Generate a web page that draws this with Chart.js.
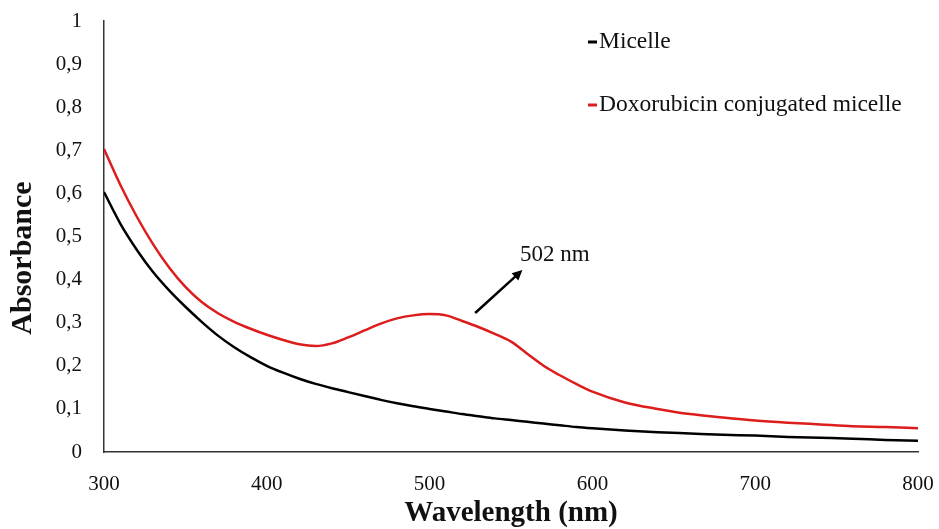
<!DOCTYPE html>
<html>
<head>
<meta charset="utf-8">
<script src="https://cdn.jsdelivr.net/npm/chart.js@4"></script>
<style>
  html, body { margin: 0; padding: 0; background: #fff; }
  #wrap { width: 939px; height: 529px; }
</style>
</head>
<body>
<div id="wrap"><canvas id="myChart"></canvas></div>
<script>
const wavelengths = [300, 310, 320, 330, 340, 350, 360, 370, 380, 390, 400, 410, 420, 430, 440, 450,
  460, 470, 480, 490, 500, 510, 520, 530, 540, 550, 560, 570, 580, 590, 600, 620, 640, 660,
  680, 700, 720, 740, 760, 780, 800];
const micelle = [0.603, 0.53, 0.47, 0.418, 0.375, 0.337, 0.302, 0.27, 0.243, 0.22, 0.2, 0.184,
  0.17, 0.158, 0.148, 0.139, 0.13, 0.121, 0.113, 0.106, 0.1, 0.094, 0.088, 0.083, 0.078, 0.074,
  0.07, 0.066, 0.062, 0.058, 0.055, 0.05, 0.046, 0.043, 0.04, 0.038, 0.035, 0.033, 0.031, 0.028, 0.026];
const doxMicelle = [0.703, 0.62, 0.547, 0.483, 0.428, 0.383, 0.348, 0.322, 0.302, 0.286, 0.272, 0.26,
  0.25, 0.246, 0.252, 0.266, 0.282, 0.298, 0.31, 0.317, 0.32, 0.317, 0.304, 0.29, 0.274, 0.256,
  0.228, 0.2, 0.178, 0.158, 0.14, 0.115, 0.1, 0.088, 0.08, 0.073, 0.068, 0.064, 0.06, 0.058, 0.055];
const seriesNames = ["Micelle", "Doxorubicin conjugated micelle"];
const seriesColors = ["#000000", "rgb(221,28,28)"];
const yTitle = "Absorbance";
const peakLabel = "502 nm";
const arrowTail = { x: 528, y: 0.3225 };
const arrowHead = { x: 557, y: 0.422 };
const peakLabelPos = { x: 555.5, y: 0.457 };

const serif = "'Liberation Serif', 'Times New Roman', serif";

const toPoints = (vals) => wavelengths.map((w, i) => ({ x: w, y: vals[i] }));

// legend in the top right, a short dash before each name
const legendPlugin = {
  id: 'sideLegend',
  afterDraw(chart) {
    const ctx = chart.ctx;
    const rows = [42, 105];
    ctx.save();
    ctx.font = "23.5px " + serif;
    ctx.textBaseline = 'middle';
    chart.data.datasets.forEach((ds, i) => {
      ctx.strokeStyle = ds.borderColor;
      ctx.lineWidth = 3;
      ctx.beginPath();
      ctx.moveTo(588, rows[i]);
      ctx.lineTo(597, rows[i]);
      ctx.stroke();
      ctx.fillStyle = '#111';
      ctx.fillText(ds.label, 599, rows[i]);
    });
    ctx.restore();
  }
};

// y title sits a bit below the middle of the axis in the original
const yTitlePlugin = {
  id: 'yTitle',
  afterDraw(chart) {
    const ctx = chart.ctx;
    ctx.save();
    ctx.translate(23, 258);
    ctx.rotate(-Math.PI / 2);
    ctx.font = "bold 30px " + serif;
    ctx.textAlign = 'center';
    ctx.textBaseline = 'middle';
    ctx.fillStyle = '#111';
    ctx.fillText(yTitle, 0, 0);
    ctx.restore();
  }
};

// arrow pointing at the peak, with its label
const peakPlugin = {
  id: 'peakNote',
  afterDraw(chart) {
    const { ctx, scales } = chart;
    const x1 = scales.x.getPixelForValue(arrowTail.x);
    const y1 = scales.y.getPixelForValue(arrowTail.y);
    const x2 = scales.x.getPixelForValue(arrowHead.x);
    const y2 = scales.y.getPixelForValue(arrowHead.y);
    const ang = Math.atan2(y2 - y1, x2 - x1);
    ctx.save();
    ctx.strokeStyle = '#000';
    ctx.fillStyle = '#000';
    ctx.lineWidth = 2.5;
    ctx.beginPath();
    ctx.moveTo(x1, y1);
    ctx.lineTo(x2 - 6 * Math.cos(ang), y2 - 6 * Math.sin(ang));
    ctx.stroke();
    ctx.beginPath();
    ctx.moveTo(x2, y2);
    ctx.lineTo(x2 - 10 * Math.cos(ang) + 5 * Math.sin(ang), y2 - 10 * Math.sin(ang) - 5 * Math.cos(ang));
    ctx.lineTo(x2 - 10 * Math.cos(ang) - 5 * Math.sin(ang), y2 - 10 * Math.sin(ang) + 5 * Math.cos(ang));
    ctx.closePath();
    ctx.fill();
    ctx.font = "23px " + serif;
    ctx.textBaseline = 'middle';
    ctx.fillStyle = '#111';
    ctx.fillText(peakLabel, scales.x.getPixelForValue(peakLabelPos.x), scales.y.getPixelForValue(peakLabelPos.y));
    ctx.restore();
  }
};

const data = {
  datasets: [
    {
      label: seriesNames[0],
      data: toPoints(micelle),
      borderColor: seriesColors[0],
      borderWidth: 2.5,
      pointRadius: 0,
      fill: false,
      cubicInterpolationMode: 'monotone',
    },
    {
      label: seriesNames[1],
      data: toPoints(doxMicelle),
      borderColor: seriesColors[1],
      borderWidth: 2.5,
      pointRadius: 0,
      fill: false,
      cubicInterpolationMode: 'monotone',
    },
  ],
};

const config = {
  type: 'line',
  data: data,
  plugins: [legendPlugin, yTitlePlugin, peakPlugin],
  options: {
    responsive: true,
    maintainAspectRatio: false,
    animation: false,
    layout: { padding: { top: 21, right: 21, left: 0, bottom: 0 } },
    plugins: {
      legend: { display: false },
      tooltip: { enabled: false },
    },
    scales: {
      x: {
        type: 'linear',
        min: 300,
        max: 800,
        grid: { display: false, drawTicks: false },
        border: { display: true, color: '#333', width: 1.5 },
        ticks: {
          stepSize: 100,
          padding: 20,
          maxRotation: 0,
          color: '#111',
          font: { family: serif, size: 21 },
        },
        title: {
          display: true,
          text: 'Wavelength (nm)',
          color: '#111',
          font: { family: serif, size: 29, weight: 'bold', lineHeight: 1 },
          padding: { top: 0, bottom: 1 },
        },
        afterFit(scale) {
          scale.height = 77;
          scale.paddingLeft = 0;
          scale.paddingRight = 0;
        },
      },
      y: {
        min: 0,
        max: 1,
        grid: { display: false, drawTicks: false },
        border: { display: true, color: '#333', width: 1.5 },
        ticks: {
          stepSize: 0.1,
          padding: 22,
          color: '#111',
          font: { family: serif, size: 21 },
          callback: (v) => String(Number(v.toFixed(1))).replace('.', ','),
        },
        afterFit(scale) {
          scale.width = 104;
          scale.paddingTop = 0;
          scale.paddingBottom = 0;
        },
      },
    },
  },
};

window.onload = function () {
  const ctx = document.getElementById('myChart').getContext('2d');
  new Chart(ctx, config);
};
</script>
</body>
</html>
